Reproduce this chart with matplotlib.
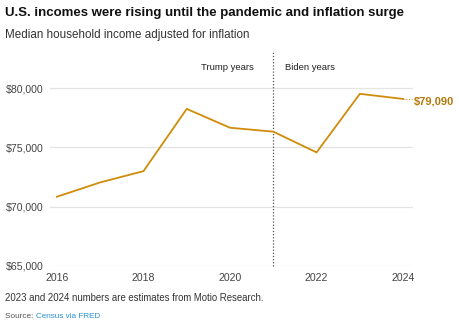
import numpy as np
import matplotlib.pyplot as plt
import matplotlib.transforms as mtransforms

# values
years = [2016, 2017, 2018, 2019, 2020, 2021, 2022, 2023, 2024]
income = [70840, 72050, 73000, 78250, 76660, 76330, 74580, 79520, 79090]
yticks = [65000, 70000, 75000, 80000]
ytick_labels = ["$65,000", "$70,000", "$75,000", "$80,000"]
xticks = [2016, 2018, 2020, 2022, 2024]
split_year = 2021
last_label = "$79,090"

line_color = "#d08c0a"
label_color = "#b5780a"
text_dark = "#222222"
grid_color = "#e4e4e4"

plt.rcParams['font.family'] = ['Liberation Sans', 'DejaVu Sans']

fig = plt.figure(figsize=(4.6, 3.29), dpi=100)
ax = fig.add_axes([0.1087, 0.1915, 0.7893, 0.6415])

ax.plot(years, income, color=line_color, lw=1.3, solid_joinstyle='miter', zorder=3)
ax.set_xlim(2015.84, 2024.23)
ax.set_ylim(65000, 82800)

ax.set_yticks(yticks)
ax.set_yticklabels(ytick_labels)
ax.set_xticks(xticks)
ax.set_xticklabels([str(x) for x in xticks])
ax.tick_params(axis='both', length=0, labelsize=7.6, colors="#444444")
ax.tick_params(axis='y', pad=32)
for t in ax.get_yticklabels():
    t.set_horizontalalignment('left')
ax.tick_params(axis='x', pad=5)
ax.grid(axis='y', color=grid_color, lw=0.9)
ax.set_axisbelow(True)
for s in ax.spines.values():
    s.set_visible(False)

# Trump / Biden split
trans = mtransforms.blended_transform_factory(ax.transData, ax.transAxes)
ax.plot([split_year, split_year], [0, 1.02], transform=trans, color="#555555",
        lw=0.9, ls=(0, (1, 1.5)), clip_on=False, zorder=2)
ax.text(split_year - 0.45, 0.94, "Trump years", transform=trans, ha='right',
        va='center', fontsize=6.8, color=text_dark)
ax.text(split_year + 0.28, 0.94, "Biden years", transform=trans, ha='left',
        va='center', fontsize=6.8, color=text_dark)

# end label
ax.plot([years[-1], years[-1] + 0.2], [income[-1], income[-1]], color=line_color,
        lw=0.8, ls=(0, (1, 1.5)), clip_on=False)
ax.text(years[-1] + 0.25, income[-1] - 250, last_label, ha='left', va='center',
        fontsize=8, fontweight='bold', color=label_color, clip_on=False)

fig.text(0.011, 0.962, "U.S. incomes were rising until the pandemic and inflation surge",
         fontsize=9.5, fontweight='bold', color="#111111", va='center', ha='left')
fig.text(0.011, 0.893, "Median household income adjusted for inflation",
         fontsize=8.4, color="#333333", va='center', ha='left')
fig.text(0.011, 0.094, "2023 and 2024 numbers are estimates from Motio Research.",
         fontsize=6.9, color="#333333", va='center', ha='left')
src = fig.text(0.011, 0.039, "Source: ", fontsize=5.9, color="#555555", va='center', ha='left')
fig.canvas.draw()
bb = src.get_window_extent().transformed(fig.transFigure.inverted())
fig.text(bb.x1, 0.039, "Census via FRED", fontsize=5.9, color="#2a8fd8", va='center', ha='left')

fig.savefig("out.png", dpi=100)
